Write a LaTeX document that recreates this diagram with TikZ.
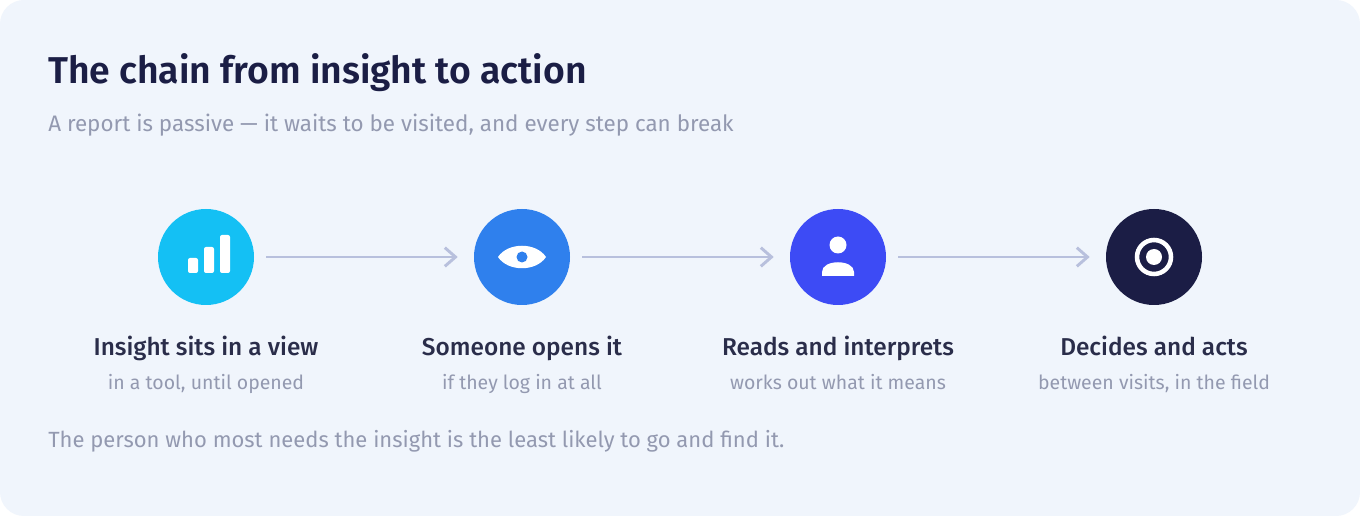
\documentclass[tikz,border=0pt]{standalone}
\usepackage{fontspec}
\usetikzlibrary{arrows.meta}
\setmainfont{Fira Sans}
\newfontfamily\semib{Fira Sans SemiBold}
\newfontfamily\medf{Fira Sans Medium}
\definecolor{bgc}{HTML}{F0F5FC}
\definecolor{titc}{HTML}{1B1E45}
\definecolor{greyc}{HTML}{9399B0}
\definecolor{labc}{HTML}{2A2D4A}
\definecolor{arrc}{HTML}{B8C0DD}
\definecolor{c1}{HTML}{14C0F4}
\definecolor{c2}{HTML}{2F80ED}
\definecolor{c3}{HTML}{3D4BF5}
\definecolor{c4}{HTML}{1B1D45}
\begin{document}
\begin{tikzpicture}[x=0.75pt,y=-0.75pt,
  stepc/.style={circle,minimum size=72pt,inner sep=0pt},
  lab/.style={font=\medf\fontsize{18.3}{20}\selectfont,text=labc,anchor=base},
  sub/.style={font=\fontsize{14.6}{16}\selectfont,text=greyc,anchor=base},
  arr/.style={draw=arrc,line width=2.2pt,-{Straight Barb[length=8pt,width=14pt,line width=2.2pt]},shorten <=9pt, shorten >=12pt}]
\fill[white] (0,0) rectangle (1360,516);
\fill[bgc,rounded corners=18pt] (0,0) rectangle (1360,516);
\useasboundingbox (0,0) rectangle (1360,516);
\node[anchor=base west,inner sep=0pt,font=\semib\fontsize{28}{32}\selectfont,text=titc] (title) at (48,84) {The chain from insight to action};
\node[anchor=base west,inner sep=0pt,font=\fontsize{16.8}{19}\selectfont,text=greyc] (subt) at (48,132) {A report is passive — it waits to be visited, and every step can break};
\node[stepc,fill=c1] (s1) at (206,257) {};
\node[stepc,fill=c2] (s2) at (522,257) {};
\node[stepc,fill=c3] (s3) at (838,257) {};
\node[stepc,fill=c4] (s4) at (1154,257) {};
\draw[arr] (s1) -- (s2);
\draw[arr] (s2) -- (s3);
\draw[arr] (s3) -- (s4);
% icons
\fill[white,rounded corners=1.5pt] (188,258) rectangle (198,273);
\fill[white,rounded corners=1.5pt] (204,247) rectangle (214,273);
\fill[white,rounded corners=1.5pt] (220,235) rectangle (230,273);
\fill[white] (498,257) .. controls (508,242) and (536,242) .. (546,257) .. controls (536,272) and (508,272) .. (498,257) -- cycle;
\fill[c2] (522,257) circle (5.5);
\fill[white] (838,245) circle (8.5);
\fill[white] (822,276) -- (822,272) .. controls (822,259) and (854,259) .. (854,272) -- (854,276) -- cycle;
\draw[white,line width=3.4pt] (1154,257) circle (17);
\fill[white] (1154,257) circle (8);
\foreach \x/\n/\a/\b in {206/1/Insight sits in a view/{in a tool, until opened},522/2/Someone opens it/if they log in at all,838/3/Reads and interprets/works out what it means,1154/4/Decides and acts/{between visits, in the field}}{
  \node[lab] (l\n) at (\x,356) {\a};
  \node[sub] (d\n) at (\x,390) {\b};
}
\node[anchor=base west,inner sep=0pt,font=\fontsize{16.5}{19}\selectfont,text=greyc] (foot) at (48,447) {The person who most needs the insight is the least likely to go and find it.};
\end{tikzpicture}
\end{document}
